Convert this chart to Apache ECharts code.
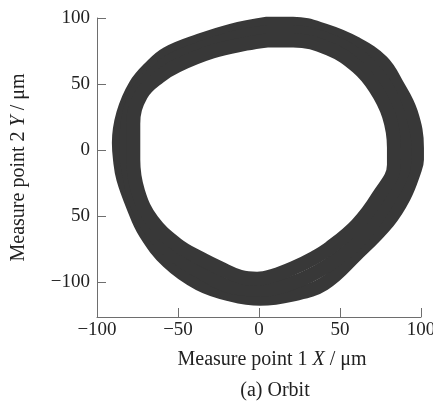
<!DOCTYPE html>
<html>
<head>
<meta charset="utf-8">
<script src="https://cdn.jsdelivr.net/npm/echarts@6/dist/echarts.min.js"></script>
<style>
  html, body { margin: 0; padding: 0; background: #fff; }
  #chart { width: 433px; height: 405px; }
</style>
</head>
<body>
<div id="chart"></div>
<script>
// Shaft orbit at measure points 1 (X) and 2 (Y), in micrometres.
// Three traced revolutions: outer, middle and inner pass of the orbit band.
const orbitOuter = [
  [5.0, 95.7], [21.0, 95.7], [40.8, 90.4], [59.9, 80.5], [75.9, 66.9], [85.2, 49.5],
  [93.8, 28.3], [97.5, 1.7], [97.5, -7.3], [95.7, -16.4], [89.5, -35.4], [79.6, -54.3],
  [59.9, -79.3], [40.1, -101.3], [20.4, -109.6], [0.7, -112.7], [-17.2, -109.6],
  [-36.9, -101.3], [-56.1, -84.6], [-70.2, -62.7], [-77.6, -43.0], [-83.8, -21.7],
  [-85.8, -7.3], [-86.5, 5.5], [-83.8, 27.5], [-76.4, 48.7], [-66.5, 63.1],
  [-56.7, 73.0], [-36.9, 82.8], [-17.2, 90.4], [5.0, 95.7]
];
const orbitMiddle = [
  [5.0, 89.2], [21.0, 89.2], [42.0, 83.6], [60.5, 72.2], [73.5, 57.0], [82.7, 38.1],
  [88.3, 15.4], [90.1, -1.3], [89.5, -11.9], [85.2, -26.3], [75.3, -46.7], [62.3, -68.0],
  [42.0, -87.7], [21.0, -100.5], [0.7, -105.8], [-17.8, -103.6], [-33.2, -94.5],
  [-53.6, -78.6], [-68.4, -58.1], [-76.4, -37.7], [-80.7, -14.9], [-82.0, -1.3],
  [-80.7, 23.7], [-74.6, 45.7], [-64.1, 59.3], [-53.6, 68.4], [-33.2, 78.3],
  [-12.9, 85.8], [5.0, 89.2]
];
const orbitInner = [
  [5.0, 83.0], [21.0, 83.0], [43.2, 76.7], [60.5, 63.1], [71.6, 47.2], [80.2, 26.0],
  [83.3, 1.7], [83.3, -11.1], [73.5, -35.4], [60.5, -56.6], [43.8, -74.0],
  [33.4, -82.0], [21.0, -89.5], [8.7, -95.2], [-1.2, -97.5], [-11.7, -96.0],
  [-24.0, -89.5], [-36.3, -82.0], [-50.5, -71.7], [-65.9, -53.6], [-74.6, -31.6],
  [-77.6, -7.3], [-77.6, 19.9], [-72.7, 41.9], [-61.6, 55.5], [-50.5, 63.9],
  [-28.9, 74.5], [-8.0, 80.5], [5.0, 83.0]
];

const xTicks = [-100, -50, 0, 50, 100];
const yTicks = [-100, -50, 0, 50, 100];
const yTickLabels = ['\u2212100', '50', '0', '50', '100'];

const serif = '"Liberation Serif", "DejaVu Serif", serif';
const inkColor = '#383838';
const axisColor = '#6e6e6e';
const textColor = '#222';

const chart = echarts.init(document.getElementById('chart'), null, { renderer: 'canvas' });

function orbitSeries(data) {
  return {
    type: 'line',
    data: data,
    smooth: 0.4,
    showSymbol: false,
    clip: false,
    silent: true,
    lineStyle: { color: inkColor, width: 14, join: 'round', cap: 'round' },
    animation: false
  };
}

const nameRich = {
  n: { fontFamily: serif, fontSize: 20, color: textColor },
  i: { fontFamily: serif, fontSize: 20, fontStyle: 'italic', color: textColor }
};

chart.setOption({
  animation: false,
  backgroundColor: '#ffffff',
  title: {
    text: '(a) Orbit',
    left: 270,
    textAlign: 'center',
    top: 376,
    textStyle: { fontFamily: serif, fontSize: 20, fontWeight: 'normal', color: textColor }
  },
  grid: {
    left: 97, right: 12, top: 18, bottom: 88,
    containLabel: false,
    outerBoundsMode: 'none'
  },
  xAxis: {
    type: 'value',
    min: -100,
    max: 100,
    interval: 50,
    name: '{n|Measure point 1 }{i|X}{n| / \u03bcm}',
    nameLocation: 'middle',
    nameGap: 33,
    nameTextStyle: { rich: nameRich, padding: [0, 0, 0, 26] },
    splitLine: { show: false },
    axisLine: { onZero: false, lineStyle: { color: axisColor, width: 1 } },
    axisTick: { inside: true, length: 9, customValues: xTicks, lineStyle: { color: axisColor } },
    axisLabel: {
      margin: 4,
      hideOverlap: false,
      fontFamily: serif, fontSize: 19, color: textColor,
      customValues: xTicks,
      formatter: v => (v < 0 ? '\u2212' + Math.abs(v) : String(v))
    }
  },
  yAxis: {
    type: 'value',
    min: -126.5,
    max: 100,
    name: '{n|Measure point 2 }{i|Y}{n| / \u03bcm}',
    nameLocation: 'middle',
    nameGap: 68,
    nameRotate: 90,
    nameTextStyle: { rich: nameRich },
    splitLine: { show: false },
    axisLine: { show: true, onZero: false, lineStyle: { color: axisColor, width: 1 } },
    axisTick: { show: true, inside: true, length: 9, customValues: yTicks, lineStyle: { color: axisColor } },
    axisLabel: {
      margin: 7,
      fontFamily: serif, fontSize: 19, color: textColor,
      customValues: yTicks,
      formatter: v => yTickLabels[yTicks.indexOf(v)]
    }
  },
  series: [orbitSeries(orbitOuter), orbitSeries(orbitMiddle), orbitSeries(orbitInner)]
});
</script>
</body>
</html>
